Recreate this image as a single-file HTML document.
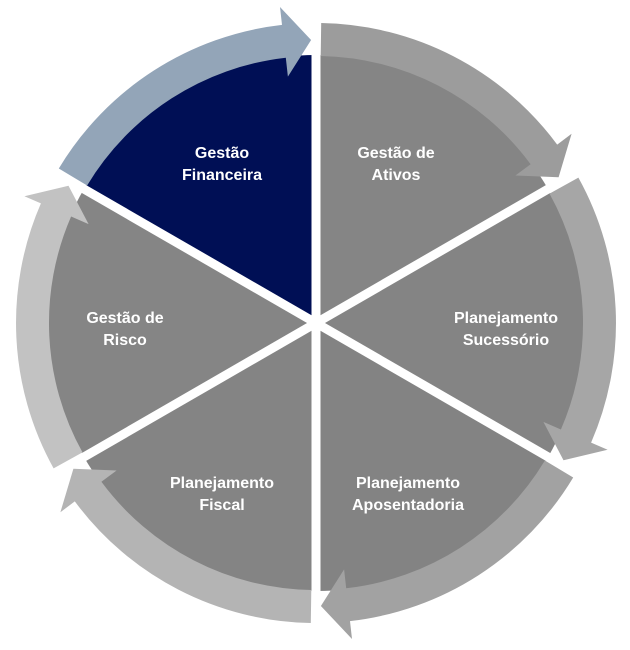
<!DOCTYPE html>
<html><head><meta charset="utf-8"><style>
html,body{margin:0;padding:0;background:#fff;}
svg{display:block;}
text{font-family:"Liberation Sans",sans-serif;font-weight:bold;font-size:16px;fill:#fff;text-anchor:middle;}
</style></head><body>
<svg id="s" width="630" height="650" viewBox="0 0 630 650">
<g id="shapes"></g>
<text x="222" y="158">Gestão</text><text x="222" y="180">Financeira</text>
<text x="396" y="158">Gestão de</text><text x="396" y="180">Ativos</text>
<text x="125" y="323">Gestão de</text><text x="125" y="345">Risco</text>
<text x="506" y="323">Planejamento</text><text x="506" y="345">Sucessório</text>
<text x="222" y="488">Planejamento</text><text x="222" y="510">Fiscal</text>
<text x="408" y="488">Planejamento</text><text x="408" y="510">Aposentadoria</text>
</svg>
<script>
var cx=316,cy=323,g=document.getElementById('shapes'),h='';
function P(r,a){a=a*Math.PI/180;return (cx+r*Math.sin(a)).toFixed(1)+','+(cy-r*Math.cos(a)).toFixed(1);}
var segs=[
 {s:300,w:'#000f55',b:'#93a5b8'},
 {s:0,w:'#858585',b:'#9c9c9c'},
 {s:60,w:'#848484',b:'#a6a6a6'},
 {s:120,w:'#838383',b:'#a2a2a2'},
 {s:180,w:'#848484',b:'#b4b4b4'},
 {s:240,w:'#858585',b:'#c2c2c2'}];
var Rw=268;
segs.forEach(function(o){
 h+='<path d="M'+cx+','+cy+' L'+P(Rw,o.s)+' A'+Rw+','+Rw+' 0 0 1 '+P(Rw,o.s+60)+' Z" fill="'+o.w+'"/>';
});
segs.forEach(function(o){
 var e=o.s+60,hb=e-6.5,r1=267,r2=300;
 h+='<path d="M'+P(r2,o.s+1)+' A'+r2+','+r2+' 0 0 1 '+P(r2,hb)+' L'+P(318,hb)+' L'+P(283,e-1)+' L'+P(248,hb)+' L'+P(r1,hb)+' A'+r1+','+r1+' 0 0 0 '+P(r1,o.s+1)+' Z" fill="'+o.b+'"/>';
});
for(var a=0;a<360;a+=60){var q=P(330,a).split(',');h+='<line x1="'+cx+'" y1="'+cy+'" x2="'+q[0]+'" y2="'+q[1]+'" stroke="#fff" stroke-width="9"/>';}
g.innerHTML=h;
</script>
</body></html>
